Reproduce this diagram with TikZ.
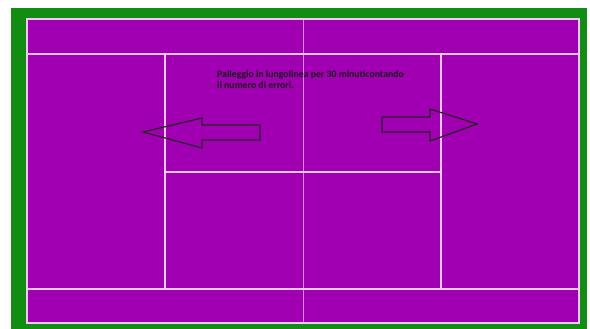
\documentclass[tikz,border=0pt]{standalone}
\usepackage{fontspec}
\setmainfont{Carlito}
\definecolor{courtpurple}{RGB}{160,0,178}
\definecolor{surround}{RGB}{18,140,18}
\definecolor{courtline}{RGB}{245,200,245}
\begin{document}
\begin{tikzpicture}[x=1pt,y=-1pt,
  courtlinestyle/.style={draw=courtline,line width=1.8pt},
  netstyle/.style={draw=courtline,line width=1pt,opacity=0.65},
  arrowshape/.style={draw=black!85,line width=1.2pt,line join=miter}]
\useasboundingbox (0,0) rectangle (590,329);
\fill[white] (0,0) rectangle (590,329);
\fill[surround] (11,8) rectangle (587,329);
\fill[courtpurple] (27,19) rectangle (579,323);
% court lines
\draw[courtlinestyle] (27,19) rectangle (579,323);
\draw[courtlinestyle] (27,54) -- (579,54);
\draw[courtlinestyle] (27,289) -- (579,289);
\draw[courtlinestyle] (165,54) -- (165,289);
\draw[courtlinestyle] (441,54) -- (441,289);
\draw[courtlinestyle] (165,172) -- (441,172);
\draw[netstyle] (303,19) -- (303,323);
% arrows
\draw[arrowshape] (143,132) -- (202,118) -- (202,125) -- (260,125) -- (260,140) -- (202,140) -- (202,148) -- cycle;
\draw[arrowshape] (477,124) -- (430,109) -- (430,117) -- (382,117) -- (382,132) -- (430,132) -- (430,141) -- cycle;
% text
\node[anchor=north west,inner sep=0pt,align=left,font=\fontsize{9.8}{11}\selectfont\bfseries,text=black!90] (txt) at (217,70)
  {Palleggio in lungolinea per 30 minuticontando\\il numero di errori.};
\end{tikzpicture}
\end{document}
